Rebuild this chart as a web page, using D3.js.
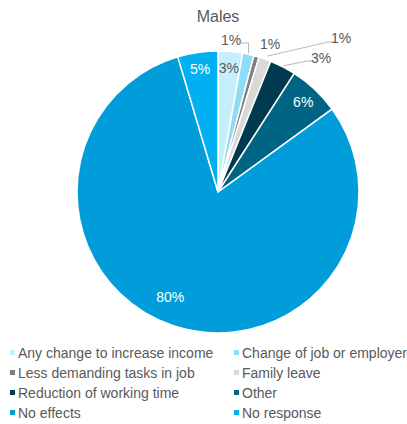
<!DOCTYPE html>
<html>
<head>
<meta charset="utf-8">
<script src="https://cdn.jsdelivr.net/npm/d3@7"></script>
<style>
  html, body { margin: 0; padding: 0; background: #fff; }
  svg { display: block; font-family: "Liberation Sans", Arial, sans-serif; }
</style>
</head>
<body>
<svg id="chart" width="407" height="424"></svg>
<script>
// Effects on work, males (% of respondents)
const categories = [
  "Any change to increase income",
  "Change of job or employer",
  "Less demanding tasks in job",
  "Family leave",
  "Reduction of working time",
  "Other",
  "No effects",
  "No response"
];
const values = [2.8, 1.3, 0.6, 1.4, 3.0, 5.9, 80.4, 4.6];
const colors = ["#c6effc", "#8fdcf7", "#7f7f7f", "#d9d9d9", "#003a4f", "#006585", "#009dda", "#00b0f0"];
// label placement: "in" = inside slice, "out" = with a leader line
const labelMode = ["in-dark", "out", "out", "out", "out", "in", "in", "in"];

const data = categories.map((c, i) => ({ name: c, value: values[i], color: colors[i], mode: labelMode[i] }));

const svg = d3.select("#chart");
const cx = 218, cy = 192, r = 141;
const fmt = d3.format(".0f");

svg.append("text")
  .attr("x", cx).attr("y", 22)
  .attr("text-anchor", "middle")
  .attr("font-size", 16)
  .attr("fill", "#595959")
  .text("Males");

const pie = d3.pie().sort(null).value(d => d.value);
const arcs = pie(data);
const arc = d3.arc().innerRadius(0).outerRadius(r);

const g = svg.append("g").attr("transform", `translate(${cx},${cy})`);

g.selectAll("path.slice")
  .data(arcs)
  .join("path")
  .attr("class", "slice")
  .attr("d", arc)
  .attr("fill", d => d.data.color)
  .attr("stroke", "#fff")
  .attr("stroke-width", 1.5);

// inside labels: small slices near the rim, the large slice nudged toward its lower-left
function insidePos(a) {
  const mid = (a.startAngle + a.endAngle) / 2;
  const big = a.data.value > 50;
  const ang = big ? mid + 0.1 : mid;
  const rad = big ? r * 0.82 : r * 0.88;
  return [Math.sin(ang) * rad, -Math.cos(ang) * rad];
}
arcs.forEach(a => {
  if (a.data.mode === "out") return;
  const pos = insidePos(a);
  g.append("text")
    .attr("x", pos[0]).attr("y", pos[1])
    .attr("text-anchor", "middle")
    .attr("dominant-baseline", "central")
    .attr("font-size", 14)
    .attr("fill", a.data.mode === "in-dark" ? "#595959" : "#fff")
    .text(fmt(a.data.value) + "%");
});

// outside labels with leader lines (offsets relative to the slice's outer edge)
const outside = [
  { idx: 1, tx: 13, ty: -152, path: (p) => [p, [p[0], -149], [23, -149]] },
  { idx: 2, tx: 52, ty: -148, path: null },
  { idx: 3, tx: 123, ty: -154, path: (p) => [[p[0] + 2, p[1] - 2], [110, -150], [116, -150]] },
  { idx: 4, tx: 103, ty: -134, path: (p) => [[p[0], p[1]], [89, -131], [94, -131]] }
];
const edge = d3.arc().innerRadius(r + 1).outerRadius(r + 1);
outside.forEach(o => {
  const a = arcs[o.idx];
  const p = edge.centroid(a);
  if (o.path) {
    g.append("path")
      .attr("d", d3.line()(o.path(p)))
      .attr("fill", "none")
      .attr("stroke", "#a6a6a6")
      .attr("stroke-width", 0.8);
  }
  g.append("text")
    .attr("x", o.tx).attr("y", o.ty)
    .attr("text-anchor", "middle")
    .attr("dominant-baseline", "central")
    .attr("font-size", 14)
    .attr("fill", "#595959")
    .text(fmt(a.data.value) + "%");
});

// legend, two columns
const legend = svg.append("g");
const colX = [10, 234], rowY0 = 353, rowH = 20;
data.forEach((d, i) => {
  const x = colX[i % 2], y = rowY0 + Math.floor(i / 2) * rowH;
  legend.append("rect")
    .attr("x", x).attr("y", y - 3)
    .attr("width", 5).attr("height", 5)
    .attr("fill", d.color);
  legend.append("text")
    .attr("x", x + 8).attr("y", y)
    .attr("dominant-baseline", "central")
    .attr("font-size", 14)
    .attr("fill", "#595959")
    .text(d.name);
});
</script>
</body>
</html>
